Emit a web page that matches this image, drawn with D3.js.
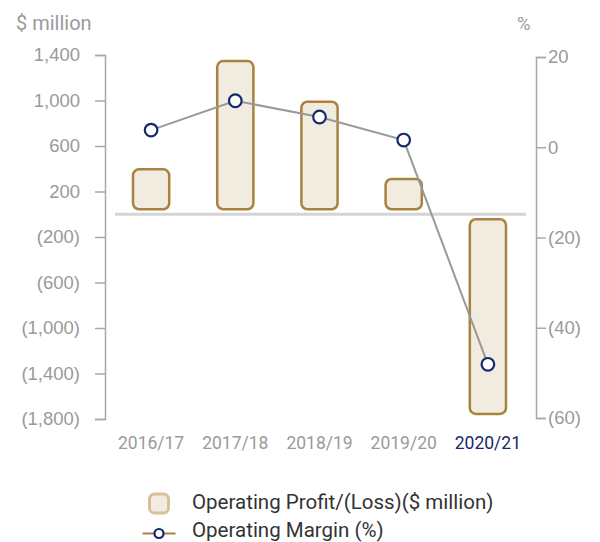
<!DOCTYPE html>
<html>
<head>
<meta charset="utf-8">
<script src="https://cdn.jsdelivr.net/npm/d3@7"></script>
<style>
  body { margin: 0; background: #fff; }
  svg { font-family: Roboto, sans-serif; }
</style>
</head>
<body>
<svg id="chart" width="600" height="542"></svg>
<script>
// chart data
const years = ['2016/17', '2017/18', '2018/19', '2019/20', '2020/21']
const profit = [395, 1347, 989, 310, -1755]
const margin = [3.8, 10.3, 6.7, 1.6, -48.1]
const leftTicks = [1400, 1000, 600, 200, -200, -600, -1000, -1400, -1800]
const rightTicks = [20, 0, -20, -40, -60]

const gold = '#a8833f'
const barFill = '#f1ebe0'
const navy = '#14296b'
const axisGrey = '#a8a8a8'
const textGrey = '#9a9a9a'

const svg = d3.select('#chart')

const x = d3.scaleBand().domain(years).range([109, 530]).padding(0)
const yL = d3.scaleLinear().domain([-1800, 1400]).range([419, 55])
const yR = d3.scaleLinear().domain([-60, 20]).range([418, 57])

const fmt = d3.format(',')
const paren = v => (v < 0 ? '(' + fmt(-v) + ')' : fmt(v))

// left axis
const gL = svg.append('g')
    .attr('transform', 'translate(105,0)')
    .call(d3.axisLeft(yL).tickValues(leftTicks).tickSize(10).tickPadding(15).tickFormat(paren))
gL.selectAll('path, line').attr('stroke', axisGrey).attr('stroke-width', 1.5)
gL.selectAll('text').attr('fill', textGrey).style('font-size', '18.5px')

// right axis
const gR = svg.append('g')
    .attr('transform', 'translate(536,0)')
    .call(d3.axisRight(yR).tickValues(rightTicks).tickSize(10).tickPadding(2).tickFormat(paren))
gR.selectAll('path, line').attr('stroke', axisGrey).attr('stroke-width', 1.5)
gR.selectAll('text').attr('fill', textGrey).style('font-size', '18.5px')
gR.select('.domain').attr('fill', 'none')
gL.select('.domain').attr('fill', 'none')

// unit labels
svg.append('text').attr('x', 16).attr('y', 30).text('$ million')
    .attr('fill', textGrey).style('font-size', '20px')
svg.append('text').attr('x', 517).attr('y', 30).text('%')
    .attr('fill', textGrey).style('font-size', '18.5px')

// zero baseline
svg.append('line')
    .attr('x1', 115).attr('x2', 526)
    .attr('y1', yL(0)).attr('y2', yL(0))
    .attr('stroke', '#d4d4d4').attr('stroke-width', 3)

// bars
const barW = x.bandwidth() * 0.43
const gap = 5
svg.append('g').selectAll('rect')
    .data(profit)
    .join('rect')
    .attr('x', (d, i) => x(years[i]) + x.bandwidth() / 2 - barW / 2)
    .attr('width', barW)
    .attr('y', d => (d >= 0 ? yL(d) : yL(0) + gap))
    .attr('height', d => Math.abs(yL(d) - yL(0)) - gap)
    .attr('rx', 6)
    .attr('fill', barFill)
    .attr('stroke', gold)
    .attr('stroke-width', 2.5)

// margin line
const line = d3.line()
    .x((d, i) => x(years[i]) + x.bandwidth() / 2)
    .y(d => yR(d))
svg.append('path')
    .datum(margin)
    .attr('d', line)
    .attr('fill', 'none')
    .attr('stroke', '#999')
    .attr('stroke-width', 2)

svg.append('g').selectAll('circle')
    .data(margin)
    .join('circle')
    .attr('cx', (d, i) => x(years[i]) + x.bandwidth() / 2)
    .attr('cy', d => yR(d))
    .attr('r', 6.3)
    .attr('fill', '#fff')
    .attr('stroke', navy)
    .attr('stroke-width', 2.2)

// x labels
svg.append('g').selectAll('text')
    .data(years)
    .join('text')
    .attr('x', d => x(d) + x.bandwidth() / 2)
    .attr('y', 449)
    .attr('text-anchor', 'middle')
    .attr('fill', (d, i) => (i === years.length - 1 ? navy : textGrey))
    .style('font-size', '17.5px')
    .text(d => d)

// legend
const legend = svg.append('g')
legend.append('rect')
    .attr('x', 149.5).attr('y', 494)
    .attr('width', 19).attr('height', 19).attr('rx', 5)
    .attr('fill', barFill).attr('stroke', '#d6c199').attr('stroke-width', 3)
legend.append('text').attr('x', 192).attr('y', 509)
    .text('Operating Profit/(Loss)($ million)')
    .attr('fill', '#333').style('font-size', '20.5px')
legend.append('line')
    .attr('x1', 142.5).attr('x2', 175.5).attr('y1', 533.5).attr('y2', 533.5)
    .attr('stroke', gold).attr('stroke-width', 2)
legend.append('circle')
    .attr('cx', 159).attr('cy', 533.5).attr('r', 4.5)
    .attr('fill', '#fff').attr('stroke', navy).attr('stroke-width', 2.2)
legend.append('text').attr('x', 192).attr('y', 537)
    .text('Operating Margin (%)')
    .attr('fill', '#333').style('font-size', '20.5px')
</script>
</body>
</html>
